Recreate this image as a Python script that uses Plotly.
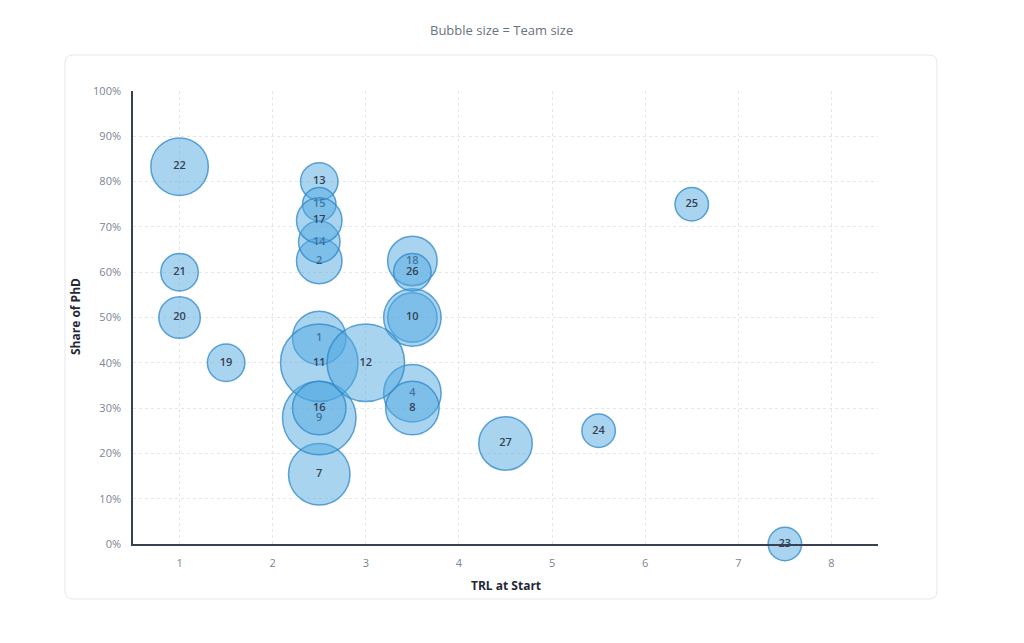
import plotly.graph_objects as go

# ---- data ----
project_ids = ["1", "2", "5", "4", "7", "8", "9", "10", "11", "12", "13", "14", "15", "16", "17",
               "18", "19", "20", "21", "22", "23", "24", "25", "26", "27"]
bubble_labels = ["1", "2", "", "4", "7", "8", "9", "10", "11", "12", "13", "14", "15", "16", "17",
                 "18", "19", "20", "21", "22", "23", "24", "25", "26", "27"]
trl_start = [2.5, 2.5, 3.5, 3.5, 2.5, 3.5, 2.5, 3.5, 2.5, 3.0, 2.5, 2.5, 2.5, 2.5, 2.5,
             3.5, 1.5, 1.0, 1.0, 1.0, 7.5, 5.5, 6.5, 3.5, 4.5]
phd_share = [45.5, 62.5, 50.0, 33.3, 15.4, 30.0, 27.8, 50.0, 40.0, 40.0, 80.0, 66.7, 75.0, 30.0, 71.4,
             62.5, 40.0, 50.0, 60.0, 83.3, 0.0, 25.0, 75.0, 60.0, 22.2]
team_size = [8, 6, 7, 9, 10, 8, 13, 9, 14, 14, 4, 5, 3, 8, 6,
             7, 4, 5, 4, 9, 3, 3, 3, 4, 8]

x_ticks = [1, 2, 3, 4, 5, 6, 7, 8]
y_ticks = [0, 10, 20, 30, 40, 50, 60, 70, 80, 90, 100]
y_tick_labels = [f"{v}%" for v in y_ticks]

chart_title = "Bubble size = Team size"
x_title = "TRL at Start"
y_title = "Share of PhD"

# ---- layout geometry ----
W, H = 1024, 643
ML, MR, MT, MB = 133, 146, 91, 99
PW, PH = W - ML - MR, H - MT - MB


def px_to_paper(px, py):
    return (px - ML) / PW, (H - MB - py) / PH


fig = go.Figure()

for pid, lab, x, y, t in zip(project_ids, bubble_labels, trl_start, phd_share, team_size):
    r = 11.5 + 2.0 * t
    fig.add_trace(go.Scatter(
        x=[x], y=[y], mode="markers+text", text=[lab],
        textposition="middle center",
        textfont=dict(family="Open Sans", size=11, color="#374151", weight=600),
        marker=dict(size=2 * r - 1.5, color="rgba(81,169,225,0.5)",
                    line=dict(color="rgba(45,135,200,0.75)", width=1.5)),
        cliponaxis=False, showlegend=False, name=pid, hoverinfo="skip",
    ))

# card with rounded corners (pixel -> paper)
x0, y0, x1, y1, rr = 65, 55, 937, 599, 8


def P(px, py):
    fx, fy = px_to_paper(px, py)
    return f"{fx:.5f},{fy:.5f}"


path = (f"M {P(x0 + rr, y0)} L {P(x1 - rr, y0)} Q {P(x1, y0)} {P(x1, y0 + rr)} "
        f"L {P(x1, y1 - rr)} Q {P(x1, y1)} {P(x1 - rr, y1)} "
        f"L {P(x0 + rr, y1)} Q {P(x0, y1)} {P(x0, y1 - rr)} "
        f"L {P(x0, y0 + rr)} Q {P(x0, y0)} {P(x0 + rr, y0)} Z")
fig.add_shape(type="path", path=path, xref="paper", yref="paper", layer="below",
              line=dict(color="#e5e7eb", width=1), fillcolor="white")

tx, ty = px_to_paper(501, 30)
ax_x, ax_y = px_to_paper(506, 585)
ay_x, ay_y = px_to_paper(75, 317)
fig.add_annotation(text=chart_title, x=tx, y=ty, xref="paper", yref="paper", showarrow=False,
                   xanchor="center", yanchor="middle",
                   font=dict(family="Open Sans", size=13, color="#6b7280"))
fig.add_annotation(text=f"<b>{x_title}</b>", x=ax_x, y=ax_y, xref="paper", yref="paper", showarrow=False,
                   xanchor="center", yanchor="middle",
                   font=dict(family="Open Sans", size=12, color="#1f2937"))
fig.add_annotation(text=f"<b>{y_title}</b>", x=ay_x, y=ay_y, xref="paper", yref="paper", showarrow=False,
                   xanchor="center", yanchor="middle",
                   textangle=-90, font=dict(family="Open Sans", size=12, color="#1f2937"))

fig.update_layout(
    width=W, height=H, margin=dict(l=ML, r=MR, t=MT, b=MB, autoexpand=False),
    paper_bgcolor="white", plot_bgcolor="rgba(0,0,0,0)",
    font=dict(family="Open Sans", size=11, color="#7b8494"),
)
fig.update_xaxes(range=[0.5, 8.5], tickvals=x_ticks, showgrid=True, gridcolor="#e6e6e6",
                 griddash="3px,3px", gridwidth=1, zeroline=False, showline=True,
                 linecolor="#374151", linewidth=1.5, ticks="", ticklabelstandoff=8,
                 tickfont=dict(size=11, color="#7b8494"))
fig.update_yaxes(range=[0, 100], tickvals=y_ticks, ticktext=y_tick_labels, showgrid=True,
                 gridcolor="#e6e6e6", griddash="3px,3px", gridwidth=1, zeroline=False, showline=True,
                 linecolor="#374151", linewidth=1.5, ticks="", ticklabelstandoff=8,
                 tickfont=dict(size=11, color="#7b8494"))

fig.write_html("out.html")
